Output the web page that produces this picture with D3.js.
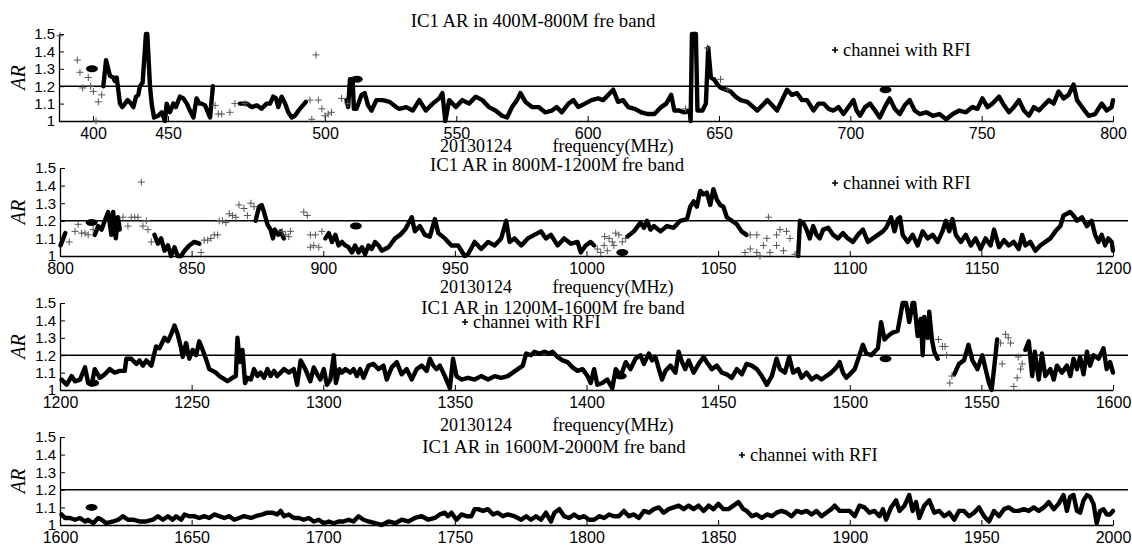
<!DOCTYPE html>
<html>
<head>
<meta charset="utf-8">
<script src="https://cdn.jsdelivr.net/npm/d3@7"></script>
<style>
  body { margin: 0; background: #fff; }
  .tick text { font-family: "Liberation Sans", Arial, sans-serif; fill: #000; }
  .domain, .tick line { stroke: #000; }
</style>
</head>
<body>
<div id="chart"></div>
<script>
const width = 1132, height = 547;

// AR threshold and ticks
const threshold = 1.2;
const yTicks = [1, 1.1, 1.2, 1.3, 1.4, 1.5];
const dateLabel = "20130124";
const xLabel = "frequency(MHz)";
const legendLabel = "channei with RFI";
const bandTitles = [
  "IC1 AR in 400M-800M fre band",
  "IC1 AR in 800M-1200M fre band",
  "IC1 AR in 1200M-1600M fre band",
  "IC1 AR in 1600M-2000M fre band"
];

// band 1 : 400-800 MHz  ([freq, AR], null = gap)
const band1Line = [
  [406.9,1.2],[408.7,1.35],[411.3,1.26],[413.5,1.25],[414.6,1.23],[415.8,1.25],[418,1.1],[419.5,1.08],[421.3,1.1],[423.1,1.12],
  [425.3,1.1],[426.9,1.08],[428.7,1.14],[430.2,1.15],[431.3,1.2],[433.1,1.22],[435.3,1.5],[436.2,1.5],[438,1.2],[439.1,1.1],
  [440.7,1.02],[443.5,1.03],[445.8,1.05],[448,1.0],[449.1,1.1],[450.6,1.05],[451.7,1.1],[452.5,1.08],[453.8,1.14],[454.9,1.13],
  [456,1.1],[457,1.06],[458.1,1.02],[459.1,1.13],[460,1.1],[460.7,1.1],[461.8,1.09],[463.4,1.02],[464.3,1.2],
  null,
  [472.9,1.1],[475.1,1.1],[476.7,1.08],[478.3,1.09],[479.8,1.07],[481.4,1.1],[482.5,1.1],[483.5,1.14],[484.4,1.13],[485.1,1.08],
  [486.2,1.14],[487.3,1.1],[488.3,1.05],[489.4,1.02],[490.4,1.03],[492,1.07],[493.9,1.11],
  null,
  [508.2,1.12],[508.8,1.08],[509.5,1.24],[510.5,1.24],[511,1.07],[512,1.07],[513.9,1.15],[515.1,1.16],[516.4,1.09],[517.7,1.06],
  [519.6,1.12],[522,1.12],[524.6,1.11],[527.1,1.08],[528.3,1.07],[530.9,1.08],[533.4,1.06],[535.9,1.12],[538.4,1.06],[541,1.1],
  [543.5,1.13],[544.7,1.16],[545.8,1.0],[547.3,1.12],[549.8,1.08],[552.3,1.12],[554.8,1.1],[557.4,1.14],[559.9,1.12],[562.4,1.08],
  [564.9,1.06],[567.4,1.03],[569.3,1.02],[571.2,1.08],[573.1,1.12],[574.4,1.16],[576.3,1.11],[578.8,1.08],[581.3,1.08],[583.8,1.05],
  [586.4,1.06],[588.2,1.08],[590.1,1.05],[592.7,1.1],[594.6,1.12],[596.4,1.08],[599,1.1],[601.5,1.12],[604,1.13],[605.9,1.12],
  [607.8,1.15],[609.7,1.18],[611.6,1.11],[613.5,1.12],[615.4,1.08],[617.9,1.07],[620.4,1.05],[622.9,1.04],[625.4,1.04],[628,1.08],
  [629.9,1.1],[631.8,1.15],[633,1.06],[634.9,1.06],[636.8,1.05],[638.8,1.06],[639.2,1.0],[639.7,1.5],[641.2,1.5],[641.8,1.06],
  [643.7,1.06],[645,1.1],[645.9,1.42],[646.9,1.25],[648.1,1.24],[649.4,1.21],[650.7,1.19],[652.6,1.18],[654.4,1.17],[656.3,1.14],
  [658.2,1.12],[660.8,1.11],[664.6,1.06],[668.4,1.12],[672.1,1.06],[675.9,1.18],[677.8,1.15],[679.7,1.16],[681.6,1.12],[683.5,1.12],
  [686,1.06],[687.9,1.1],[689.8,1.1],[691.7,1.07],[693.6,1.06],[695.5,1.08],[697.4,1.04],[699.3,1.08],[701.2,1.12],[702.4,1.06],
  [703.7,1.03],[705.6,1.08],[707.5,1.1],[709.4,1.06],[711.2,1.02],[713.1,1.08],[715,1.13],[716.9,1.07],[718.8,1.04],[720.7,1.09],
  [722.6,1.12],[724.5,1.06],[726.4,1.04],[728.9,1.05],[731.4,1.03],[733.9,1.04],[736.5,1.01],[739,1.04],[741.5,1.06],[744,1.05],
  [746.5,1.08],[748.4,1.07],[750.3,1.13],[752.2,1.08],[754.1,1.1],[756.6,1.14],[758.5,1.09],[760.4,1.05],[762.3,1.08],[764.2,1.12],
  [766.1,1.06],[768,1.03],[769.9,1.08],[771.8,1.06],[773.7,1.09],[775.6,1.12],[777.4,1.1],[779.3,1.17],[781.2,1.13],[783.1,1.15],
  [785,1.21],[786.3,1.12],[788.2,1.08],[790.7,1.03],[793.2,1.04],[795.7,1.1],[797.6,1.06],[799.5,1.08],[800,1.12]
];
const band1Rfi = [
  [377.7,1.49],[389.4,1.35],[391.2,1.28],[396.8,1.25],[393,1.19],[398.4,1.2],[400.2,1.17],[405.8,1.15],[403.5,1.11],[402,1.0],
  [497.1,1.38],[465,1.09],[466,1.04],[467.1,1.04],[469.7,1.05],[471.3,1.1],[474.5,1.1],[495.2,1.12],[497.9,1.12],[499,1.07],
  [495.8,1.01],[500,1.03],[501.2,1.04],[502.5,1.05],[506.3,1.13],[508.7,1.1],[637.3,1.07],[645.6,1.42],[650.6,1.24],[653.3,1.18]
];
const band1Dots = [[399.3,1.3],[512.1,1.24],[713.4,1.18]];

// band 2 : 800-1200 MHz
const band2Line = [
  [800.2,1.06],[801,1.09],[802,1.13],
  null,
  [813.2,1.12],[814.5,1.17],[815.8,1.15],[817,1.2],[818.3,1.25],[819.5,1.12],[820.2,1.25],[821.2,1.1],[822,1.22],[822.7,1.15],
  null,
  [835.9,1.12],[837.2,1.07],[838.4,1.1],[839.7,1.03],[841,1.06],[842.2,1.0],[843.5,1.05],[844.7,1.0],[846,1.0],[847.3,1.03],
  [849.1,1.06],[851,1.08],[852.9,1.07],
  null,
  [874.3,1.2],[875.6,1.28],[876.6,1.29],[877.5,1.25],[878.8,1.18],[880,1.15],[880.9,1.1],[881.6,1.15],[882.9,1.12],[883.8,1.14],[885,1.1],
  null,
  [900.8,1.1],[902.1,1.13],[903.3,1.08],[904.6,1.12],[905.8,1.06],[907.1,1.08],[908.4,1.06],[909.6,1.05],[910.9,1.02],[912.1,1.06],
  [913.4,1.02],[914.7,1.05],[915.9,1.01],[917.2,1.06],[918.4,1.04],[919.7,1.08],[921,1.06],[922.2,1.03],[924.8,1.05],[927.3,1.1],
  [929.2,1.12],[931.1,1.15],[933.6,1.22],[934.8,1.14],[936.7,1.17],[938.6,1.12],[940.5,1.11],[942.4,1.21],[943.7,1.13],[946.2,1.1],
  [948.7,1.06],[951.2,1.06],[953.7,1.0],[955,1.01],[957.5,1.08],[960,1.04],[962.6,1.08],[965.1,1.06],[967.6,1.1],[969.5,1.2],
  [970.8,1.08],[972.6,1.1],[975.2,1.06],[977.7,1.1],[980.2,1.12],[982.7,1.14],[984.6,1.1],[986.5,1.12],[989,1.06],[991.5,1.1],
  [994.1,1.07],[996.6,1.08],[997.8,1.02],[999.7,1.06],[1001.6,1.08],[1002.9,1.06],
  null,
  [1015.5,1.11],[1018,1.14],[1020.5,1.19],[1021.8,1.16],[1023,1.2],[1024.3,1.15],[1025.6,1.17],[1028.1,1.14],[1030.6,1.17],[1033.1,1.16],
  [1035.6,1.2],[1038.2,1.21],[1039.4,1.28],[1040.7,1.31],[1041.9,1.28],[1043.2,1.37],[1044.5,1.35],[1045.7,1.36],[1047,1.29],[1048.2,1.38],
  [1049.5,1.32],[1050.8,1.29],[1052,1.28],[1053.3,1.22],[1055.2,1.2],[1057.1,1.18],[1058.9,1.14],[1060.8,1.12],
  null,
  [1080.4,1.0],[1081.1,1.2],[1082.3,1.19],[1083.6,1.15],[1084.8,1.1],[1086.1,1.17],[1087.4,1.12],[1088.6,1.1],[1089.9,1.15],[1091.8,1.16],
  [1093.7,1.12],[1095.5,1.1],[1097.4,1.13],[1099.3,1.1],[1101.2,1.08],[1103.1,1.12],[1105,1.15],[1106.9,1.08],[1108.8,1.1],[1110.7,1.12],
  [1112.6,1.14],[1113.8,1.16],[1115.1,1.2],[1115.7,1.22],[1117,1.14],[1118.2,1.21],[1119.1,1.22],[1120.1,1.12],[1122,1.08],[1123.9,1.12],
  [1125.8,1.06],[1127.7,1.14],[1129.6,1.1],[1131.5,1.12],[1133.4,1.08],[1135.2,1.14],[1136.5,1.2],[1137.8,1.14],[1139,1.21],[1140.3,1.12],
  [1142.2,1.08],[1144.1,1.12],[1146,1.06],[1147.8,1.1],[1149.7,1.04],[1151.6,1.1],[1153.5,1.06],[1154.8,1.15],[1156.7,1.05],[1158.6,1.09],
  [1160.4,1.06],[1162.3,1.08],[1164.2,1.04],[1165.5,1.12],[1166.7,1.06],[1168.6,1.08],[1170.5,1.03],[1172.4,1.06],[1174.3,1.08],[1176.2,1.1],
  [1178.1,1.14],[1180,1.17],[1181.2,1.23],[1182.5,1.24],[1183.7,1.25],[1185,1.23],[1186.3,1.2],[1188.2,1.22],[1190.1,1.17],[1191.9,1.2],
  [1193.2,1.12],[1194.5,1.08],[1195.7,1.12],[1197,1.06],[1198.2,1.1],[1199.5,1.08],[1200,1.03]
];
const band2Rfi = [
  [803.5,1.08],[805.7,1.14],[806.9,1.18],[808.2,1.13],[809.5,1.13],[810.7,1.12],[812.6,1.15],[830.9,1.42],[823.9,1.22],[825.8,1.17],
  [827.1,1.22],[828.4,1.22],[829.6,1.22],[831.5,1.17],[832.8,1.2],[833.4,1.15],[834.7,1.08],[853.6,1.02],[854.8,1.09],[856.1,1.09],
  [857.3,1.1],[858.6,1.12],[859.9,1.12],[860.5,1.2],[861.7,1.2],[863,1.19],[864.3,1.24],[865.5,1.23],[866.8,1.22],[868,1.29],
  [869.9,1.27],[871.2,1.23],[872.5,1.3],[873.7,1.28],[884.4,1.14],[885.7,1.12],[886.9,1.11],[887.6,1.14],[892.6,1.25],[893.9,1.23],
  [895.1,1.12],[897,1.12],[898.3,1.05],[895.1,1.05],[896.4,1.06],[899.5,1.14],
  [1004.1,1.04],[1005.4,1.02],[1006.7,1.06],[1007.9,1.03],[1008.6,1.1],[1009.8,1.08],[1011.1,1.13],[1012.3,1.12],[1013.6,1.08],[1014.9,1.1],
  [1006.9,1.11],[1010.4,1.06],[1060.2,1.02],
  [1069.1,1.22],[1062.2,1.12],[1064.7,1.12],[1068.5,1.1],[1072.2,1.12],[1073.5,1.15],[1076,1.14],[1077.3,1.1],[1062.2,1.04],[1064.7,1.02],
  [1067.2,1.06],[1069.7,1.02],[1072.2,1.06],[1074.8,1.03],[1079.2,1.01],[1065.9,1.0]
];
const band2Dots = [[812,1.19],[912.4,1.17],[1013.6,1.02]];

// band 3 : 1200-1600 MHz
const band3Line = [
  [1200.6,1.06],[1202.5,1.03],[1204.4,1.08],[1205.7,1.05],[1207.6,1.06],[1209.5,1.13],[1210.7,1.04],[1212,1.03],[1213.2,1.12],[1215.1,1.07],
  [1217,1.09],[1218.9,1.12],[1220.8,1.1],[1222.7,1.11],[1224.6,1.11],[1225.2,1.18],[1227.1,1.18],[1229,1.15],[1230.2,1.17],[1231.5,1.14],
  [1232.8,1.17],[1234.7,1.14],[1236.5,1.25],[1237.8,1.24],[1239.7,1.3],[1241,1.28],[1242.2,1.32],[1243.5,1.37],[1244.7,1.32],[1246,1.24],
  [1246.6,1.19],[1247.9,1.27],[1249.1,1.18],[1250.4,1.23],[1251.7,1.2],[1252.9,1.28],[1254.2,1.23],[1255.4,1.18],[1256.7,1.12],[1258,1.11],
  [1259.2,1.1],[1260.5,1.08],[1261.7,1.07],[1263.6,1.05],[1265.5,1.07],[1266.8,1.08],[1267.4,1.3],[1268.3,1.16],[1269.3,1.23],[1270.3,1.04],
  [1271.2,1.07],[1272.5,1.06],[1273.7,1.12],[1275,1.08],[1276.2,1.1],[1277.5,1.07],[1278.8,1.12],[1280,1.08],[1281.3,1.11],[1282.5,1.08],
  [1283.8,1.1],[1285.1,1.12],[1286.9,1.1],[1288.8,1.12],[1290.1,1.03],[1291.4,1.17],[1293.2,1.12],[1295.1,1.05],[1296.4,1.13],[1297.7,1.09],
  [1298.9,1.06],[1300.2,1.12],[1301.4,1.03],[1302.7,1.06],[1304,1.2],[1304.8,1.04],[1306.1,1.12],[1307.1,1.1],[1308.4,1.12],[1310.3,1.1],
  [1311.5,1.12],[1312.8,1.08],[1314,1.12],[1315.3,1.07],[1317.2,1.14],[1319.1,1.15],[1321,1.12],[1322.9,1.14],[1324.1,1.06],[1326,1.13],
  [1327.9,1.16],[1329.8,1.09],[1331.7,1.12],[1333.6,1.06],[1335.5,1.12],[1337.4,1.14],[1339.3,1.11],[1340.5,1.18],[1341.8,1.14],[1343,1.12],
  [1344.3,1.14],[1346.2,1.08],[1348.1,1.01],[1349.3,1.18],[1350.6,1.08],[1352.5,1.06],[1355,1.07],[1357.5,1.06],[1360,1.08],[1362.6,1.06],
  [1365.1,1.08],[1367.6,1.07],[1370.1,1.08],[1372,1.1],[1373.9,1.12],[1375.8,1.14],[1377.1,1.21],[1378.9,1.2],[1380.2,1.22],[1382.1,1.21],
  [1384,1.22],[1385.9,1.21],[1387.1,1.22],[1389,1.19],[1390.9,1.17],[1392.8,1.16],[1394.7,1.13],[1396.6,1.11],[1398.5,1.12],[1400.4,1.08],
  [1401.6,1.04],[1402.9,1.12],[1404.1,1.03],[1406,1.04],[1407.9,1.06],[1409.8,1.01],[1411.1,1.12],[1413,1.08],[1414.9,1.16],[1416.7,1.12],
  [1418.6,1.18],[1420.5,1.2],[1421.8,1.15],[1423.7,1.21],[1424.9,1.17],[1426.2,1.19],[1427.5,1.12],[1428.7,1.06],[1430,1.11],[1431.9,1.14],
  [1433.8,1.1],[1435,1.22],[1436.3,1.16],[1437.5,1.12],[1438.8,1.17],[1440.7,1.1],[1442.6,1.15],[1444.5,1.19],[1445.7,1.16],[1447.6,1.12],
  [1449.5,1.14],[1451.4,1.1],[1453.3,1.09],[1455.2,1.07],[1457.1,1.12],[1459,1.09],[1460.8,1.15],[1462.8,1.14],[1464.7,1.12],[1466.6,1.08],
  [1468.5,1.03],[1470.4,1.08],[1472.2,1.18],[1473.5,1.12],[1475.4,1.1],[1477,1.19],[1478.5,1.1],[1480.4,1.12],[1481.7,1.07],[1483.6,1.1],
  [1485.5,1.06],[1487.4,1.08],[1489.3,1.06],[1491.1,1.08],[1493,1.1],[1494.9,1.13],[1496.2,1.16],[1497.4,1.1],[1498.7,1.07],[1500,1.09],
  [1501.9,1.12],[1503.7,1.2],[1505,1.26],[1506.3,1.21],[1508.2,1.2],[1509.4,1.22],[1510.7,1.24],[1511.9,1.39],[1513.2,1.29],[1514.5,1.31],
  [1516.3,1.33],[1518.2,1.34],[1520.1,1.5],[1521.4,1.5],[1522.6,1.39],[1523.9,1.5],[1524.5,1.5],[1525.8,1.31],[1527,1.41],[1527.7,1.2],
  [1528.3,1.42],[1529.6,1.3],[1530.2,1.45],[1531.2,1.29],[1532.1,1.22],[1533.4,1.18],
  null,
  [1539.7,1.09],[1541.5,1.15],[1543.4,1.17],[1545.1,1.26],[1546.6,1.17],[1548.5,1.12],[1550.4,1.2],[1551.6,1.12],[1552.9,1.04],[1553.9,1.0],
  [1554.8,1.12],[1556,1.29],
  null,
  [1566.7,1.23],[1568,1.28],[1569.3,1.08],[1570.3,1.22],[1571.8,1.06],[1573,1.21],[1574.3,1.08],[1576.2,1.12],[1577.5,1.06],[1578.7,1.14],
  [1580.6,1.1],[1582.5,1.14],[1583.8,1.08],[1585,1.18],[1586.3,1.12],[1587.5,1.19],[1588.8,1.09],[1590.1,1.22],[1591.3,1.14],[1592.6,1.2],
  [1594.5,1.18],[1596.4,1.24],[1597.6,1.12],[1598.9,1.16],[1600,1.1]
];
const band3Rfi = [
  [1533.7,1.29],[1535.2,1.25],[1536.2,1.25],[1536.8,1.2],[1538.8,1.08],[1538,1.04],[1559.2,1.32],[1560.2,1.3],[1561.1,1.27],[1557.3,1.27],
  [1557.9,1.15],[1564,1.19],[1565.5,1.15],[1564.9,1.12],[1563.6,1.07],[1562.3,1.02]
];
const band3Dots = [[1212.6,1.04],[1413,1.08],[1513.6,1.18]];

// band 4 : 1600-2000 MHz
const band4Line = [
  [1600.6,1.06],[1601.9,1.04],[1603.8,1.04],[1605.7,1.03],[1607.6,1.04],[1609.5,1.02],[1610.7,1.03],[1612.6,1.01],[1614.5,1.04],[1615.8,1.03],
  [1617.6,1.01],[1620.2,1.02],[1622.1,1.03],[1623.9,1.05],[1625.8,1.03],[1627.7,1.03],[1630.2,1.02],[1632.8,1.02],[1635.3,1.03],[1637.2,1.05],
  [1639.1,1.03],[1641,1.05],[1642.8,1.03],[1644.1,1.05],[1646,1.03],[1647.3,1.06],[1649.1,1.05],[1651,1.05],[1652.9,1.04],[1654.8,1.05],
  [1656.7,1.04],[1658.6,1.06],[1660.5,1.05],[1662.4,1.04],[1664.3,1.05],[1666.2,1.03],[1668,1.04],[1669.9,1.05],[1672.5,1.04],[1674.3,1.05],
  [1676.9,1.06],[1678.8,1.07],[1680.6,1.07],[1682.5,1.06],[1683.8,1.08],[1685.1,1.05],[1686.9,1.06],[1688.8,1.04],[1690.7,1.04],[1692.6,1.03],
  [1694.5,1.04],[1696.4,1.02],[1698.3,1.03],[1700.2,1.01],[1702.1,1.02],[1704,1.01],[1705.8,1.02],[1707.7,1.02],[1709.6,1.03],[1711.5,1.02],
  [1713.4,1.05],[1715.3,1.03],[1717.2,1.02],[1719.7,1.01],[1722.2,1.0],[1724.8,1.02],[1727.3,1.01],[1729.8,1.03],[1732.3,1.02],[1734.8,1.04],
  [1737.4,1.05],[1739.9,1.03],[1742.4,1.04],[1744.3,1.06],[1746.2,1.07],[1747.4,1.05],[1748.7,1.07],[1750.6,1.03],[1752.5,1.06],[1754.4,1.05],
  [1756.3,1.05],[1757.5,1.09],[1758.8,1.09],[1760.7,1.08],[1762.6,1.09],[1764.5,1.06],[1766.3,1.07],[1768.2,1.05],[1770.1,1.06],[1772.6,1.05],
  [1775.2,1.03],[1777.1,1.05],[1778.9,1.03],[1780.8,1.05],[1782.7,1.03],[1784.6,1.07],[1786.5,1.02],[1787.8,1.07],[1789.7,1.09],[1791.5,1.05],
  [1793.4,1.04],[1795.3,1.06],[1797.2,1.04],[1799.1,1.05],[1801,1.03],[1802.9,1.03],[1804.8,1.05],[1806.7,1.04],[1808.6,1.06],[1810.4,1.05],
  [1812.3,1.05],[1814.2,1.08],[1816.1,1.05],[1818,1.06],[1819.9,1.04],[1821.8,1.08],[1823.7,1.07],[1825.6,1.09],[1827.5,1.1],[1829.3,1.07],
  [1831.2,1.09],[1833.1,1.1],[1835,1.11],[1836.9,1.09],[1838.8,1.11],[1840.7,1.09],[1842.6,1.11],[1844.5,1.08],[1846.4,1.11],[1848.2,1.09],
  [1850.1,1.12],[1852,1.09],[1853.9,1.09],[1855.8,1.11],[1857.7,1.13],[1859.6,1.09],[1860.9,1.08],[1862.8,1.05],[1864.7,1.06],[1866.6,1.04],
  [1868.5,1.06],[1870.4,1.05],[1872.2,1.07],[1874.1,1.08],[1876,1.07],[1877.9,1.05],[1879.8,1.08],[1881.7,1.07],[1883.6,1.08],[1885.5,1.06],
  [1887.4,1.08],[1889.3,1.05],[1891.1,1.07],[1893,1.09],[1894.3,1.11],[1896.2,1.08],[1898.1,1.08],[1900,1.08],[1901.9,1.05],[1903.7,1.11],
  [1905.6,1.1],[1907.5,1.07],[1909.4,1.08],[1911.3,1.05],[1912.6,1.09],[1913.8,1.03],[1915.7,1.1],[1917.6,1.14],[1918.9,1.08],[1920.8,1.11],
  [1922.6,1.17],[1923.9,1.08],[1925.2,1.13],[1926.4,1.04],[1928.3,1.11],[1930.2,1.14],[1932.1,1.07],[1934,1.08],[1935.9,1.05],[1937.8,1.07],
  [1939.7,1.03],[1941.5,1.08],[1943.4,1.08],[1945.3,1.05],[1947.2,1.07],[1949.1,1.1],[1951,1.05],[1952.9,1.02],[1954.8,1.08],[1956.7,1.05],
  [1958.6,1.09],[1960.4,1.1],[1962.3,1.08],[1964.2,1.08],[1966.1,1.09],[1968,1.08],[1969.9,1.1],[1971.8,1.08],[1973.7,1.1],[1975.6,1.13],
  [1977.5,1.09],[1979.3,1.12],[1981.2,1.17],[1982.5,1.08],[1983.7,1.16],[1985,1.17],[1986.3,1.08],[1987.5,1.07],[1988.8,1.14],[1990.1,1.17],
  [1991.3,1.16],[1992.6,1.12],[1993.8,1.01],[1995.1,1.08],[1996.4,1.09],[1997.6,1.06],[1998.9,1.06],[2000,1.08]
];
const band4Rfi = [];
const band4Dots = [[1612,1.1]];

// layout of the four stacked panels
const panels = [
  { title: bandTitles[0], line: band1Line, rfi: band1Rfi, dots: band1Dots,
    domain: [377, 400, 450, 500, 800], range: [59, 93, 168, 325, 1113], ticks: d3.range(400, 801, 50),
    top: 34, bottom: 121, titleX: 533, titleY: 21, subY: 146, legendX: 835, legendY: 50 },
  { title: bandTitles[1], line: band2Line, rfi: band2Rfi, dots: band2Dots,
    domain: [800, 1200], range: [60, 1113], ticks: d3.range(800, 1201, 50),
    top: 168, bottom: 256, titleX: 557, titleY: 165, subY: 287, legendX: 835, legendY: 183 },
  { title: bandTitles[2], line: band3Line, rfi: band3Rfi, dots: band3Dots,
    domain: [1200, 1600], range: [60, 1113], ticks: d3.range(1200, 1601, 50),
    top: 303, bottom: 390, titleX: 553, titleY: 308, subY: 425, legendX: 465, legendY: 322 },
  { title: bandTitles[3], line: band4Line, rfi: band4Rfi, dots: band4Dots,
    domain: [1600, 2000], range: [60, 1113], ticks: d3.range(1600, 2001, 50),
    top: 437, bottom: 525, titleX: 554, titleY: 447, subY: null, legendX: 742, legendY: 455 }
];

const serif = "'Liberation Serif', 'Times New Roman', serif";

const svg = d3.select("#chart")
  .append("svg")
  .attr("width", width)
  .attr("height", height)
  .style("background", "#fff");

panels.forEach(p => {
  const x = d3.scaleLinear().domain(p.domain).range(p.range);
  const y = d3.scaleLinear().domain([1, 1.5]).range([p.bottom, p.top]);
  const g = svg.append("g");
  const xEnd = p.range[p.range.length - 1];

  // 1.2 reference line
  g.append("line")
    .attr("x1", p.range[0]).attr("x2", xEnd + 15)
    .attr("y1", y(threshold)).attr("y2", y(threshold))
    .attr("stroke", "#000").attr("stroke-width", 1.4);

  // axes, ticks pointing inwards
  const xAxis = g.append("g")
    .attr("transform", `translate(0,${y(1)})`)
    .call(d3.axisBottom(x).tickValues(p.ticks).tickFormat(d3.format("d"))
      .tickSizeInner(-5).tickSizeOuter(0).tickPadding(7));
  xAxis.selectAll(".tick text").style("font-size", "16px");

  const yAxis = g.append("g")
    .attr("transform", `translate(${p.range[0]},0)`)
    .call(d3.axisLeft(y).tickValues(yTicks).tickFormat(d3.format(".1~f"))
      .tickSizeInner(-5).tickSizeOuter(0).tickPadding(4));
  yAxis.selectAll(".tick text").style("font-size", "15px");
  g.selectAll(".domain").attr("stroke-width", 1.3);

  // AR line
  const line = d3.line()
    .defined(d => d !== null)
    .x(d => x(d[0]))
    .y(d => y(d[1]));

  g.append("path")
    .datum(p.line)
    .attr("d", line)
    .attr("fill", "none")
    .attr("stroke", "#000")
    .attr("stroke-width", 4.4)
    .attr("stroke-linejoin", "round")
    .attr("stroke-linecap", "round");

  // channels with RFI
  g.selectAll(".rfi")
    .data(p.rfi)
    .enter()
    .append("path")
    .attr("class", "rfi")
    .attr("d", "M-3.5,0H3.5M0,-3.5V3.5")
    .attr("transform", d => `translate(${x(d[0])},${y(d[1])})`)
    .attr("stroke", "#555")
    .attr("stroke-width", 1);

  // black dots
  g.selectAll(".dot")
    .data(p.dots)
    .enter()
    .append("ellipse")
    .attr("class", "dot")
    .attr("cx", d => x(d[0]))
    .attr("cy", d => y(d[1]))
    .attr("rx", 6)
    .attr("ry", 3.5)
    .attr("fill", "#000");

  // titles and labels
  g.append("text")
    .attr("x", p.titleX).attr("y", p.titleY + 6)
    .attr("text-anchor", "middle")
    .style("font-family", serif).style("font-size", "18.8px")
    .text(p.title);

  if (p.subY !== null) {
    g.append("text")
      .attr("x", 476).attr("y", p.subY + 6)
      .attr("text-anchor", "middle")
      .style("font-family", serif).style("font-size", "18px")
      .text(dateLabel);
    g.append("text")
      .attr("x", 613).attr("y", p.subY + 6)
      .attr("text-anchor", "middle")
      .style("font-family", serif).style("font-size", "18px")
      .text(xLabel);
  }

  g.append("text")
    .attr("transform", `translate(25,${(p.top + p.bottom) / 2}) rotate(-90)`)
    .attr("text-anchor", "middle")
    .style("font-family", serif).style("font-size", "20px").style("font-style", "italic")
    .text("AR");

  // legend
  g.append("path")
    .attr("d", "M-3,0H3M0,-3V3")
    .attr("transform", `translate(${p.legendX},${p.legendY})`)
    .attr("stroke", "#000")
    .attr("stroke-width", 1.6);
  g.append("text")
    .attr("x", p.legendX + 8).attr("y", p.legendY + 6)
    .style("font-family", serif).style("font-size", "18.4px")
    .text(legendLabel);
});
</script>
</body>
</html>
